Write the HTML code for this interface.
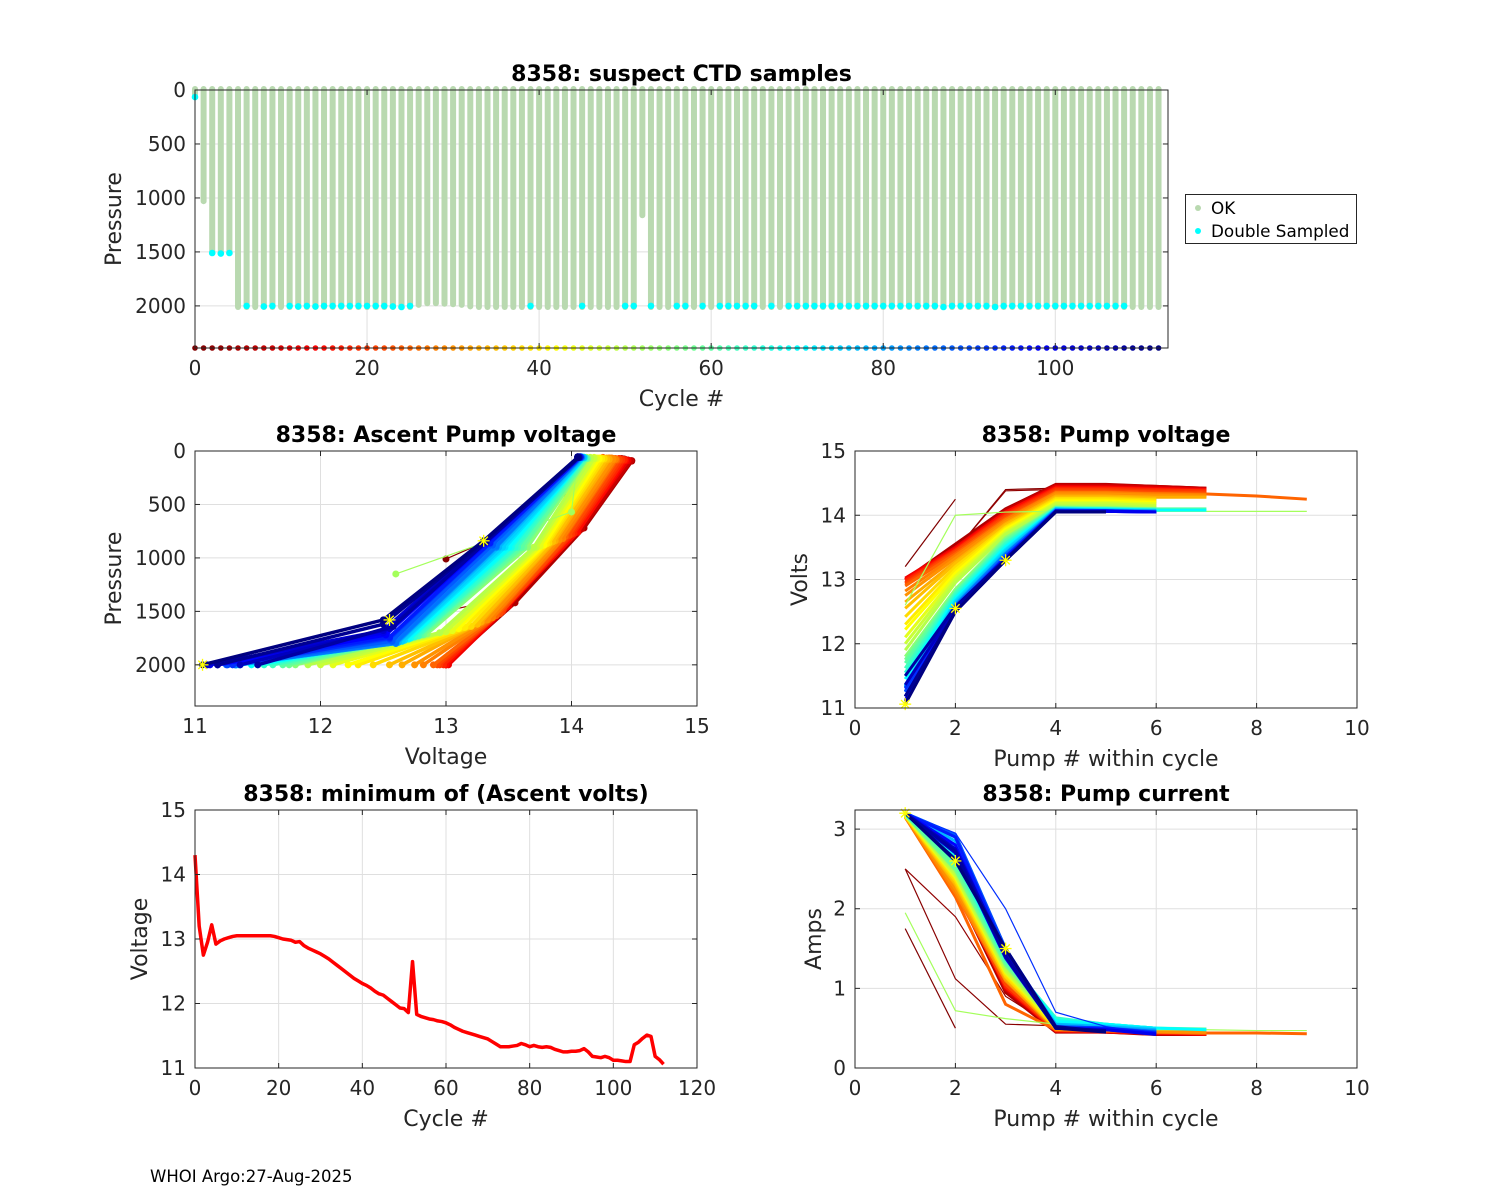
<!DOCTYPE html>
<html><head><meta charset="utf-8"><title>8358 pump diagnostics</title>
<style>
html,body{margin:0;padding:0;background:#fff;}
svg{display:block;font-family:"DejaVu Sans","Liberation Sans",sans-serif;}
</style></head>
<body>
<svg id="fig" width="1500" height="1200" viewBox="0 0 1500 1200" xmlns="http://www.w3.org/2000/svg">
<rect x="0" y="0" width="1500" height="1200" fill="#fff"/>
<text x="150" y="1182" font-size="16.5" fill="#000">WHOI Argo:27-Aug-2025</text>
</svg>
<script>
// ---------- Data ----------
const cycles = Array.from({length:113},(_,i)=>i);
const maxPressure = [40,1030,1510,1510,1510,2010,2010,2010,2010,2010,
2010,2010,2010,2010,2010,2010,2010,2010,2010,2010,
2010,2010,2010,2010,2010,2010,1990,1975,1975,1980,
1985,1990,2005,2010,2010,2010,2010,2010,2010,2010,
2010,2010,2010,2010,2010,2010,2010,2010,2010,2010,
2010,2010,1160,2010,2010,2010,2010,2010,2010,2010,
2010,2010,2010,2010,2010,2010,2010,2010,2010,2010,
2010,2010,2010,2010,2010,2010,2010,2010,2010,2010,
2010,2010,2010,2010,2010,2010,2010,2010,2010,2010,
2010,2010,2010,2010,2010,2010,2010,2010,2010,2010,
2010,2010,2010,2010,2010,2010,2010,2010,2010,2010,
2010,2010,2010];
const doubleSampledCycles = [0,2,3,4,6,8,9,11,12,13,14,15,16,17,18,19,20,21,22,23,24,25,39,45,50,51,53,56,57,59,61,62,63,64,65,67,69,70,71,72,73,74,75,76,77,78,79,80,81,82,83,84,85,86,87,88,89,90,91,92,93,94,95,96,97,98,99,100,101,102,103,104,105,106,107,108];
const doubleSampledPressure = [65,1510,1515,1510,2000,2005,2000,2000,2005,2000,2005,2000,2000,2000,2000,2000,2000,2000,2000,2005,2010,2000,2000,2000,2000,2000,2000,2000,2000,2000,2000,2000,2000,2000,2000,2000,2000,2000,2000,2000,2000,2000,2000,2000,2000,2000,2000,2000,2000,2000,2000,2000,2000,2000,2010,2000,2000,2000,2000,2000,2010,2000,2000,2000,2000,2000,2000,2000,2000,2000,2000,2000,2000,2000,2000,2000];
const minAscentVolts = [14.30,13.20,12.75,12.95,13.22,12.92,12.97,13.00,13.02,13.04,
13.05,13.05,13.05,13.05,13.05,13.05,13.05,13.05,13.05,13.04,
13.02,13.00,12.99,12.98,12.95,12.96,12.90,12.86,12.83,12.80,
12.77,12.73,12.69,12.64,12.59,12.54,12.49,12.44,12.39,12.35,
12.31,12.28,12.24,12.19,12.15,12.13,12.08,12.03,11.98,11.93,
11.92,11.86,12.65,11.83,11.80,11.78,11.76,11.75,11.73,11.72,
11.70,11.67,11.63,11.60,11.57,11.55,11.53,11.51,11.49,11.47,
11.45,11.41,11.37,11.33,11.33,11.33,11.34,11.35,11.38,11.36,
11.33,11.35,11.33,11.32,11.33,11.32,11.29,11.27,11.25,11.25,
11.26,11.26,11.27,11.30,11.25,11.18,11.17,11.16,11.18,11.16,
11.12,11.12,11.11,11.10,11.10,11.36,11.40,11.46,11.51,11.49,
11.18,11.13,11.06];

// representative cycles for pump plots
const repCycles = [0,1,2,5,8,10,12,15,18,20,22,25,28,30,33,35,38,40,42,45,48,50,52,55,58,60,63,65,68,70,73,75,78,80,83,85,88,90,93,95,98,100,103,105,108,110,112];
const repVolts = [
[13.2,14.25],
[13.0,13.45,14.4,14.42,14.4],
[12.95,13.45,14.38,14.4,14.38,14.35],
[13.0,13.55,14.1,14.48,14.48,14.45,14.42],
[13.0,13.5,14.08,14.47,14.47,14.45,14.42],
[13.0,13.5,14.05,14.45,14.45,14.43,14.4],
[13.02,13.5,14.05,14.45,14.44,14.42,14.4],
[13.0,13.48,14.05,14.43,14.43,14.41,14.4],
[12.98,13.46,14.02,14.42,14.42,14.4,14.38],
[12.95,13.45,14.0,14.4,14.4,14.38,14.38],
[12.93,13.43,13.98,14.38,14.38,14.36,14.35],
[12.9,13.4,13.95,14.36,14.36,14.34,14.33,14.3,14.25],
[12.82,13.37,13.93,14.35,14.35,14.33,14.32],
[12.75,13.33,13.9,14.33,14.33,14.31,14.3],
[12.65,13.28,13.87,14.3,14.3,14.28,14.28],
[12.55,13.25,13.85,14.28,14.28,14.26],
[12.42,13.2,13.82,14.26,14.26,14.24],
[12.3,13.15,13.8,14.24,14.24,14.22],
[12.22,13.1,13.78,14.22,14.22,14.2],
[12.1,13.05,13.75,14.2,14.2,14.18],
[12.0,13.0,13.72,14.18,14.18,14.15],
[11.9,12.95,13.7,14.15,14.15,14.12],
[12.6,14.0,14.05,14.06,14.06,14.06,14.06,14.06,14.06],
[11.8,12.85,13.65,14.13,14.12,14.1],
[11.75,12.82,13.62,14.12,14.11,14.1],
[11.7,12.8,13.6,14.12,14.1,14.1,14.1],
[11.62,12.78,13.57,14.11,14.1,14.09],
[11.55,12.75,13.55,14.1,14.1,14.08],
[11.5,12.72,13.52,14.1,14.09,14.08],
[11.45,12.7,13.5,14.1,14.1,14.08,14.08],
[11.35,12.67,13.47,14.1,14.08,14.07],
[11.33,12.65,13.45,14.1,14.08,14.08],
[11.36,12.62,13.42,14.09,14.08,14.07],
[11.33,12.6,13.4,14.08,14.08,14.06],
[11.32,12.6,13.4,14.08,14.07,14.06],
[11.32,12.6,13.4,14.08,14.07,14.06],
[11.25,12.57,13.37,14.07,14.07,14.05],
[11.26,12.55,13.35,14.07,14.07,14.05],
[11.3,12.55,13.35,14.07,14.06,14.05],
[11.18,12.55,13.35,14.07,14.07,14.05],
[11.18,12.52,13.32,14.06,14.06,14.05],
[11.12,12.5,13.3,14.06,14.06,14.05],
[11.1,12.5,13.3,14.06,14.05],
[11.36,12.55,13.3,14.06,14.06],
[11.5,12.58,13.32,14.06,14.05],
[11.18,12.5,13.3,14.05,14.05],
[11.06,12.5,13.3,14.05,14.05]];
const repAmps = [
[1.75,0.5],
[2.5,1.12,0.55,0.53,0.5],
[2.5,1.9,0.9,0.5,0.48,0.45],
[3.15,2.25,0.95,0.45,0.45,0.42,0.42],
[3.15,2.28,0.98,0.46,0.45,0.43,0.42],
[3.15,2.3,1.0,0.46,0.45,0.43,0.42],
[3.15,2.3,1.0,0.47,0.46,0.44,0.42],
[3.15,2.28,1.02,0.47,0.46,0.44,0.43],
[3.15,2.25,1.02,0.47,0.46,0.44,0.43],
[3.15,2.25,1.05,0.48,0.47,0.45,0.43],
[3.15,2.2,1.05,0.48,0.47,0.45,0.44],
[3.15,2.15,0.8,0.48,0.47,0.45,0.44,0.44,0.43],
[3.15,2.2,1.1,0.48,0.47,0.45,0.44],
[3.15,2.25,1.1,0.49,0.48,0.46,0.45],
[3.16,2.3,1.12,0.5,0.48,0.46],
[3.16,2.32,1.15,0.5,0.48,0.47],
[3.16,2.35,1.15,0.5,0.49,0.47],
[3.17,2.38,1.18,0.52,0.5,0.48],
[3.17,2.4,1.2,0.53,0.5,0.48],
[3.17,2.4,1.2,0.53,0.5,0.48],
[3.18,2.42,1.22,0.55,0.5,0.48],
[3.18,2.45,1.25,0.55,0.52,0.48],
[1.95,0.72,0.62,0.55,0.5,0.48,0.48,0.47,0.47],
[3.18,2.48,1.28,0.57,0.52,0.49],
[3.18,2.5,1.3,0.6,0.53,0.5],
[3.18,2.55,1.32,0.62,0.54,0.5,0.49],
[3.19,2.6,1.35,0.62,0.55,0.5],
[3.19,2.62,1.38,0.63,0.55,0.5],
[3.19,2.65,1.4,0.6,0.55,0.5],
[3.2,2.7,1.42,0.58,0.55,0.5,0.48],
[3.2,2.75,1.42,0.55,0.53,0.5],
[3.2,2.8,1.45,0.55,0.52,0.48],
[3.2,2.85,1.45,0.55,0.52,0.48],
[3.2,2.9,1.45,0.53,0.5,0.47],
[3.2,2.92,1.45,0.52,0.5,0.46],
[3.2,2.93,1.48,0.52,0.5,0.46],
[3.2,2.93,1.5,0.52,0.5,0.45],
[3.2,2.9,1.5,0.52,0.5,0.45],
[3.2,2.95,2.0,0.7,0.52,0.42],
[3.2,2.9,1.45,0.5,0.5,0.44],
[3.2,2.8,1.4,0.5,0.48,0.43],
[3.2,2.7,1.4,0.5,0.48,0.42],
[3.2,2.7,1.38,0.5,0.47],
[3.2,2.75,1.45,0.5,0.47],
[3.2,2.72,1.4,0.5,0.47],
[3.2,2.62,1.5,0.52,0.46],
[3.2,2.6,1.5,0.5,0.45]];
const repPressure = [
[],
[1010,780,80,75,70],
[1510,1380,90,85,80,75],
[2000,1420,720,95,90,85,80],
[2000,1430,730,95,90,85,80],
[2000,1440,740,90,85,80,75],
[2000,1450,740,90,85,80,75],
[2000,1460,760,90,85,80,75],
[2000,1480,770,85,80,75,70],
[2000,1500,780,85,80,75,70],
[2000,1520,790,85,80,75,70],
[2000,1540,800,85,80,75,70,65,60],
[2000,1560,820,80,75,70,65],
[2000,1580,830,80,75,70,65],
[2000,1600,840,80,75,70,65],
[2000,1620,850,80,75,70],
[2000,1640,860,75,70,65],
[2000,1650,870,75,70,65],
[2000,1660,880,75,70,65],
[2000,1680,890,70,65,60],
[2000,1690,900,70,65,60],
[2000,1700,900,70,65,60],
[1150,570,65,60,60,60,60,60,60],
[2000,1710,900,70,65,60],
[2000,1720,900,70,65,60],
[2000,1720,900,70,65,60,60],
[2000,1730,900,65,60,60],
[2000,1740,900,65,60,60],
[2000,1750,900,65,60,60],
[2000,1760,900,65,60,60,55],
[2000,1770,900,65,60,55],
[2000,1780,900,60,60,55],
[2000,1790,900,60,60,55],
[2000,1800,900,60,55,55],
[2000,1800,900,60,55,55],
[2000,1790,890,60,55,55],
[2000,1780,880,60,55,55],
[2000,1760,870,60,55,55],
[2000,1750,860,60,55,55],
[2000,1740,860,60,55,55],
[2000,1720,860,60,55,55],
[2000,1700,860,60,55,55],
[2000,1680,850,60,55],
[2000,1660,850,60,55],
[2000,1640,850,60,55],
[2000,1620,850,60,55],
[2000,1580,840,60,55]];
const lastCycleVolts = [11.06,12.55,13.3];
const lastCycleAmps = [3.2,2.6,1.5];
const lastCyclePressure = [2000,1580,840];
const legendLabels = ["OK","Double Sampled"];

// ---------- helpers ----------
const NS="http://www.w3.org/2000/svg";
const svg=document.getElementById('fig');
function el(tag,attrs,parent){const e=document.createElementNS(NS,tag);for(const k in attrs)e.setAttribute(k,attrs[k]);(parent||svg).appendChild(e);return e;}
function jet(t){const c=v=>Math.max(0,Math.min(1,v));
 const r=c(1.5-Math.abs(4*t-3)),g=c(1.5-Math.abs(4*t-2)),b=c(1.5-Math.abs(4*t-1));
 return `rgb(${Math.round(r*255)},${Math.round(g*255)},${Math.round(b*255)})`;}
function cyc2col(c){return jet(1-c/112);}

function axes(o){
 const g=el('g',{});
 
 
 const sx=v=>o.x0+(v-o.xmin)/(o.xmax-o.xmin)*(o.x1-o.x0);
 const sy=o.yrev? v=>o.y0+(v-o.ymin)/(o.ymax-o.ymin)*(o.y1-o.y0)
               : v=>o.y1-(v-o.ymin)/(o.ymax-o.ymin)*(o.y1-o.y0);
 const grid=el('g',{},g);
 
 
 o.xticks.forEach(t=>{const x=sx(t);
   el('line',{x1:x,x2:x,y1:o.y0,y2:o.y1,stroke:'#dfdfdf','stroke-width':1},grid);});
 o.yticks.forEach(t=>{const y=sy(t);
   el('line',{x1:o.x0,x2:o.x1,y1:y,y2:y,stroke:'#dfdfdf','stroke-width':1},grid);});
 const plot=el('g',{},g);
 
 
 const deco=el('g',{},g);
 const box=el('rect',{x:o.x0,y:o.y0,width:o.x1-o.x0,height:o.y1-o.y0,fill:'none',stroke:'#262626','stroke-width':1},deco);
 
 
 o.xticks.forEach(t=>{const x=sx(t);
   el('line',{x1:x,x2:x,y1:o.y1,y2:o.y1-5,stroke:'#262626'},deco);
   el('line',{x1:x,x2:x,y1:o.y0,y2:o.y0+5,stroke:'#262626'},deco);
   const tx=el('text',{x:x,y:o.y1+27,'text-anchor':'middle','font-size':20,fill:'#262626'},deco);
   tx.textContent=t;
   
   
 });
 o.yticks.forEach(t=>{const y=sy(t);
   el('line',{x1:o.x0,x2:o.x0+5,y1:y,y2:y,stroke:'#262626'},deco);
   el('line',{x1:o.x1,x2:o.x1-5,y1:y,y2:y,stroke:'#262626'},deco);
   const tx=el('text',{x:o.x0-9,y:y+7,'text-anchor':'end','font-size':20,fill:'#262626'},deco);
   tx.textContent=t;
   
   
 });
 const ti=el('text',{x:(o.x0+o.x1)/2,y:o.y0-9,'text-anchor':'middle','font-size':22,'font-weight':'bold',fill:'#000'},deco);
 ti.textContent=o.title;
 
 
 const xl=el('text',{x:(o.x0+o.x1)/2,y:o.y1+58,'text-anchor':'middle','font-size':22,fill:'#262626'},deco);
 xl.textContent=o.xlabel;
 
 
 const yx=o.ylx, yy=(o.y0+o.y1)/2;
 const yl=el('text',{x:yx,y:yy,'text-anchor':'middle','font-size':22,fill:'#262626',transform:`rotate(-90 ${yx} ${yy})`},deco);
 yl.textContent=o.ylabel;
 
 
 return {sx,sy,plot};
}
function star(p,x,y,r){
 const s=el('g',{stroke:'#ffff00','stroke-width':1.3},p);
 
 
 el('line',{x1:x-r,x2:x+r,y1:y,y2:y},s);el('line',{x1:x,x2:x,y1:y-r,y2:y+r},s);
 el('line',{x1:x-r*.7,x2:x+r*.7,y1:y-r*.7,y2:y+r*.7},s);el('line',{x1:x-r*.7,x2:x+r*.7,y1:y+r*.7,y2:y-r*.7},s);
}

// ---------- Top: suspect CTD samples ----------
(function(){
 const a=axes({name:'suspect-ctd-chart',x0:195,x1:1168,y0:90,y1:348,xmin:0,xmax:113.1,ymin:0,ymax:2390,yrev:true,
   xticks:[0,20,40,60,80,100],yticks:[0,500,1000,1500,2000],title:'8358: suspect CTD samples',xlabel:'Cycle #',ylabel:'Pressure',ylx:121});
 cycles.forEach(c=>{
   const b=el('line',{x1:a.sx(c),x2:a.sx(c),y1:a.sy(0)-1,y2:a.sy(maxPressure[c]),stroke:'#b9d9b0','stroke-width':6,'stroke-linecap':'round'},a.plot);
   
   
 });
 doubleSampledCycles.forEach((c,i)=>{
   const d=el('circle',{cx:a.sx(c),cy:a.sy(doubleSampledPressure[i]),r:3.3,fill:'#00ffff'},a.plot);
   
   
 });
 cycles.forEach(c=>{
   const d=el('circle',{cx:a.sx(c),cy:a.sy(2390),r:2.8,fill:cyc2col(c)},a.plot);
   
   
 });
 const lg=el('g',{});
 
 
 el('rect',{x:1185.5,y:194.5,width:171,height:49,fill:'#fff',stroke:'#262626','stroke-width':1},lg);
 const cols=['#b9d9b0','#00ffff'];
 legendLabels.forEach((lab,i)=>{
   const e=el('g',{},lg);
   
   
   el('circle',{cx:1198,cy:208+i*23,r:3,fill:cols[i]},e);
   const t=el('text',{x:1211,y:214+i*23,'font-size':16.8,fill:'#000'},e);
   t.textContent=lab;
 });
})();

// ---------- Middle left: ascent pump voltage ----------
(function(){
 const a=axes({name:'ascent-pump-voltage-chart',x0:195,x1:697,y0:451,y1:706,xmin:11,xmax:15,ymin:0,ymax:2385,yrev:true,
   xticks:[11,12,13,14,15],yticks:[0,500,1000,1500,2000],title:'8358: Ascent Pump voltage',xlabel:'Voltage',ylabel:'Pressure',ylx:121});
 repCycles.forEach((c,i)=>{
   const p=repPressure[i], v=repVolts[i].slice(0,p.length);
   if(!p.length) return;
   const col=cyc2col(c);
   const pts=v.map((x,k)=>a.sx(x)+','+a.sy(p[k])).join(' ');
   const l=el('polyline',{points:pts,fill:'none',stroke:col,'stroke-width':(c<3||c===52)?1.2:3.5},a.plot);
   
   
   v.forEach((x,k)=>{const d=el('circle',{cx:a.sx(x),cy:a.sy(p[k]),r:3.5,fill:col},a.plot);
     
     });
 });
 lastCycleVolts.forEach((v,k)=>star(a.plot,a.sx(v),a.sy(lastCyclePressure[k]),6));
})();

// ---------- Middle right: pump voltage ----------
(function(){
 const a=axes({name:'pump-voltage-chart',x0:855,x1:1357,y0:451,y1:708,xmin:0,xmax:10,ymin:11,ymax:15,
   xticks:[0,2,4,6,8,10],yticks:[11,12,13,14,15],title:'8358: Pump voltage',xlabel:'Pump # within cycle',ylabel:'Volts',ylx:807});
 repCycles.forEach((c,i)=>{
   const pts=repVolts[i].map((v,k)=>a.sx(k+1)+','+a.sy(v)).join(' ');
   const l=el('polyline',{points:pts,fill:'none',stroke:cyc2col(c),'stroke-width':(c<3||c===52)?1.2:3},a.plot);
   
   
 });
 lastCycleVolts.forEach((v,k)=>star(a.plot,a.sx(k+1),a.sy(v),6));
})();

// ---------- Bottom left: minimum ascent volts ----------
(function(){
 const a=axes({name:'min-ascent-volts-chart',x0:195,x1:697,y0:810,y1:1068,xmin:0,xmax:120,ymin:11,ymax:15,
   xticks:[0,20,40,60,80,100,120],yticks:[11,12,13,14,15],title:'8358: minimum of (Ascent volts)',xlabel:'Cycle #',ylabel:'Voltage',ylx:147});
 const pts=cycles.map(c=>a.sx(c)+','+a.sy(minAscentVolts[c])).join(' ');
 const l=el('polyline',{points:pts,fill:'none',stroke:'#ff0000','stroke-width':3.5,'stroke-linejoin':'round'},a.plot);
 
 
})();

// ---------- Bottom right: pump current ----------
(function(){
 const a=axes({name:'pump-current-chart',x0:855,x1:1357,y0:810,y1:1068,xmin:0,xmax:10,ymin:0,ymax:3.24,
   xticks:[0,2,4,6,8,10],yticks:[0,1,2,3],title:'8358: Pump current',xlabel:'Pump # within cycle',ylabel:'Amps',ylx:821});
 repCycles.forEach((c,i)=>{
   const pts=repAmps[i].map((v,k)=>a.sx(k+1)+','+a.sy(v)).join(' ');
   const l=el('polyline',{points:pts,fill:'none',stroke:cyc2col(c),'stroke-width':(c<3||c===52||c===93)?1.2:3},a.plot);
   
   
 });
 lastCycleAmps.forEach((v,k)=>star(a.plot,a.sx(k+1),a.sy(v),6));
})();
</script>
</body></html>
